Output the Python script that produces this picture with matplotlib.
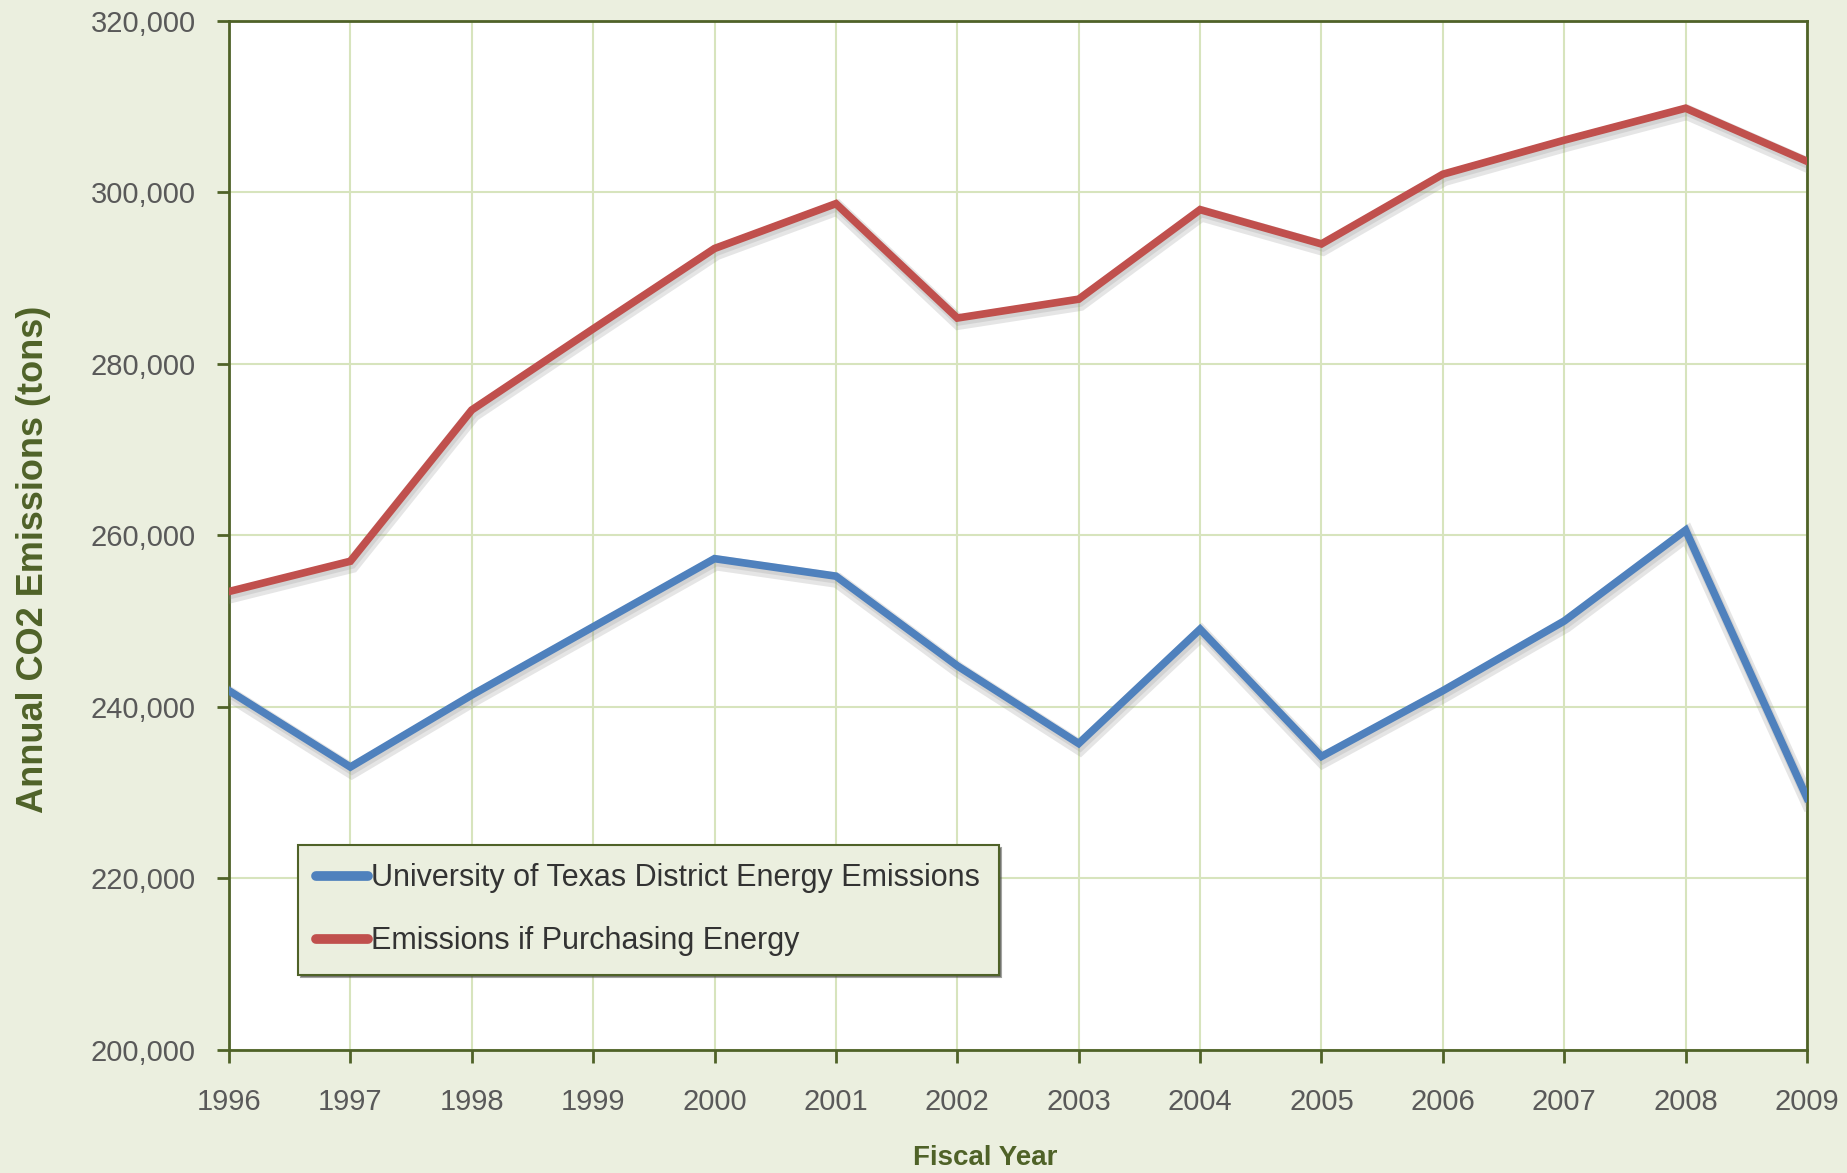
import matplotlib
matplotlib.use("Agg")
import matplotlib.pyplot as plt
import matplotlib.patheffects as pe
from matplotlib.ticker import FuncFormatter

years = [1996, 1997, 1998, 1999, 2000, 2001, 2002, 2003, 2004, 2005, 2006, 2007, 2008, 2009]
ut_emissions = [241900, 233000, 241400, 249350, 257300, 255260, 244800, 235740,
                249070, 234230, 241900, 250030, 260620, 229400]
purchase_emissions = [253470, 257000, 274640, 284100, 293470, 298700, 285360, 287560,
                      298000, 294000, 302130, 306100, 309830, 303640]
series_labels = ["University of Texas District Energy Emissions",
                 "Emissions if Purchasing Energy"]
x_label = "Fiscal Year"
y_label = "Annual CO2 Emissions (tons)"
y_ticks = [200000, 220000, 240000, 260000, 280000, 300000, 320000]

BG = "#EBEFDF"
OLIVE = "#4F6228"
GRID = "#D7E4BD"
BLUE = "#4F81BD"
RED = "#C0504D"
TXT = "#595959"
narrow = ["Liberation Sans Narrow", "Liberation Sans", "DejaVu Sans"]

fig = plt.figure(figsize=(18.47, 11.73), dpi=100, facecolor=BG)
ax = fig.add_axes([229/1847, 1-1050/1173, (1807-229)/1847, (1050-21)/1173])
ax.set_facecolor("white")

shadow = [pe.SimpleLineShadow(offset=(1, -3), shadow_color="#8a8a8a", alpha=0.22, linewidth=11),
          pe.SimpleLineShadow(offset=(1, -2), shadow_color="#8a8a8a", alpha=0.2, linewidth=7),
          pe.Normal()]
ax.plot(years, ut_emissions, color=BLUE, lw=5.5, label=series_labels[0],
        solid_joinstyle="miter", path_effects=shadow, zorder=3)
ax.plot(years, purchase_emissions, color=RED, lw=5.5, label=series_labels[1],
        solid_joinstyle="miter", path_effects=shadow, zorder=3)

ax.set_xlim(years[0], years[-1])
ax.set_ylim(y_ticks[0], y_ticks[-1])
ax.set_xticks(years)
ax.set_yticks(y_ticks)
ax.yaxis.set_major_formatter(FuncFormatter(lambda v, p: f"{int(v):,}"))
ax.grid(True, color=GRID, lw=1.5, zorder=0)
ax.set_axisbelow(True)

for s in ax.spines.values():
    s.set_color(OLIVE)
    s.set_linewidth(2)

ax.tick_params(axis="both", direction="out", color=OLIVE, width=2, length=9,
               labelcolor=TXT, labelsize=21)
ax.tick_params(axis="x", pad=18)
ax.tick_params(axis="y", pad=15)
for lbl in ax.get_xticklabels() + ax.get_yticklabels():
    lbl.set_family(narrow)

ax.set_ylabel(y_label, fontsize=26, fontweight="bold", color=OLIVE,
              family=["Liberation Sans", "DejaVu Sans"])
ax.yaxis.set_label_coords(-0.113, 0.477)
fig.text(985/1847, 1-1158/1173, x_label, fontsize=20, fontweight="bold", color=OLIVE,
         family=["Liberation Sans", "DejaVu Sans"], ha="center", va="center")

leg = ax.legend(loc="upper left", bbox_to_anchor=((298-229)/1578, (1050-845)/1029),
                frameon=True, fancybox=False, shadow=True, facecolor=BG, edgecolor=OLIVE,
                framealpha=1, prop={"family": narrow, "size": 22},
                handlelength=1.7, handletextpad=0.1, borderpad=0.6, labelspacing=1.08,
                borderaxespad=0)
leg.get_frame().set_linewidth(1.5)
for t in leg.get_texts():
    t.set_color("#333333")
for h in leg.get_lines():
    h.set_path_effects([])
    h.set_linewidth(7)
    h.set_solid_capstyle("round")

fig.savefig("out.png", dpi=100, facecolor=BG)
